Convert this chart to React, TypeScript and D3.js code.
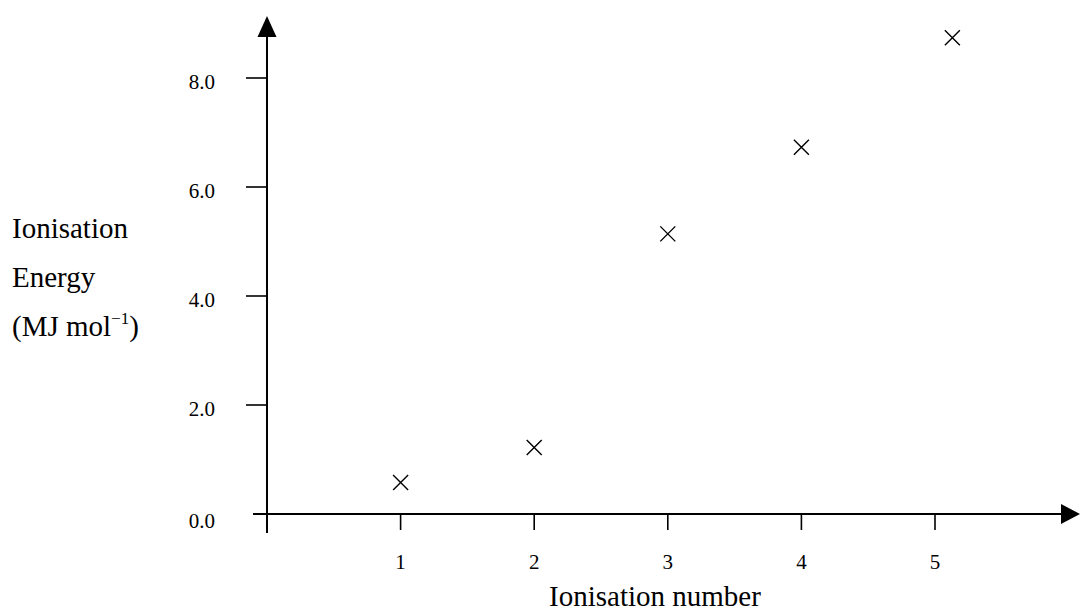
import * as d3 from 'd3';

const ionisationNumbers = [1, 2, 3, 4, 5.13];
const energies = [0.58, 1.22, 5.14, 6.73, 8.74];
const xTicks = [1, 2, 3, 4, 5];
const yTicks = [0, 2, 4, 6, 8];
const yTitleLines = ['Ionisation', 'Energy'];

const W = 1080;
const H = 615;
const FONT = '"Liberation Serif", "Times New Roman", serif';

export default function App() {
  const originX = 267;
  const originY = 514;
  const x = d3.scaleLinear().domain([0, 5]).range([originX, 935]);
  const y = d3.scaleLinear().domain([0, 8]).range([originY, 78]);
  const cross = 7.5;

  return (
    <svg
      width={W}
      height={H}
      style={{ position: 'absolute', left: 0, top: 0, background: '#fff' }}
      fontFamily={FONT}
    >
      {/* y axis with arrow */}
      <line x1={originX} x2={originX} y1={533} y2={30} stroke="#000" strokeWidth={2} />
      <path d={`M${originX},16 L${originX - 9.5},37 L${originX + 9.5},37 Z`} fill="#000" />
      {/* x axis with arrow */}
      <line x1={253} x2={1066} y1={originY} y2={originY} stroke="#000" strokeWidth={2} />
      <path d={`M1080,${originY} L1061,${originY - 10} L1061,${originY + 10} Z`} fill="#000" />

      {yTicks.map((t) => (
        <g key={`y${t}`}>
          {t > 0 && (
            <line x1={246} x2={originX} y1={y(t)} y2={y(t)} stroke="#000" strokeWidth={1.6} />
          )}
          <text
            x={215}
            y={y(t) + (t === 0 ? 7 : 4)}
            textAnchor="end"
            dominantBaseline="central"
            fontSize={21}
          >
            {t.toFixed(1)}
          </text>
        </g>
      ))}

      {xTicks.map((t) => (
        <g key={`x${t}`}>
          <line x1={x(t)} x2={x(t)} y1={originY} y2={530} stroke="#000" strokeWidth={1.6} />
          <text x={x(t)} y={562} textAnchor="middle" dominantBaseline="central" fontSize={21}>
            {t}
          </text>
        </g>
      ))}

      {ionisationNumbers.map((n, i) => {
        const cx = x(n);
        const cy = y(energies[i]);
        return (
          <path
            key={i}
            d={`M${cx - cross},${cy - cross}L${cx + cross},${cy + cross}M${cx - cross},${cy + cross}L${cx + cross},${cy - cross}`}
            stroke="#000"
            strokeWidth={1.4}
            fill="none"
          />
        );
      })}

      {yTitleLines.map((line, i) => (
        <text key={line} x={12} y={238 + i * 49} fontSize={29}>
          {line}
        </text>
      ))}
      <text x={12} y={336} fontSize={29}>
        (MJ mol
        <tspan fontSize={17} dy={-12}>−1</tspan>
        <tspan dy={12}>)</tspan>
      </text>

      <text x={655} y={606} textAnchor="middle" fontSize={29}>
        Ionisation number
      </text>
    </svg>
  );
}
